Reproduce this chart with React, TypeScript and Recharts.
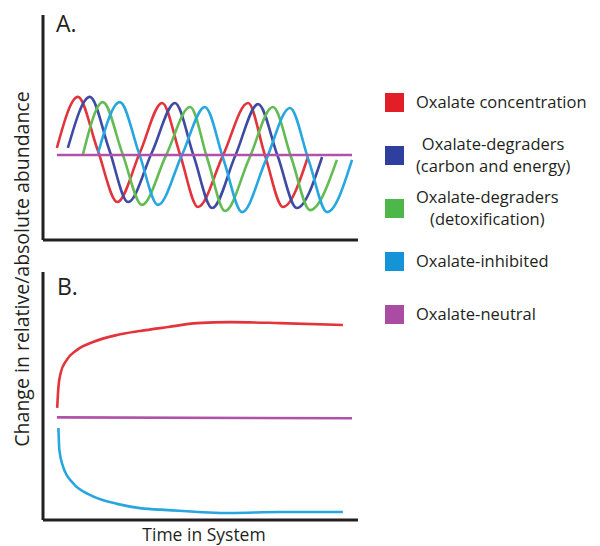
import { LineChart, Line, XAxis, YAxis } from 'recharts'

type Pt = { t: number; v: number }

// panel A: oscillating abundances (time 0-100, value 0-100)
const redA: Pt[] = [
  { t: 4.4, v: 40.9 }, { t: 11.1, v: 63.6 }, { t: 17.3, v: 40.2 }, { t: 23.6, v: 16.9 },
  { t: 30.8, v: 39 }, { t: 37.8, v: 60.9 }, { t: 43.5, v: 38 }, { t: 49.2, v: 14.7 },
  { t: 57.1, v: 37.5 }, { t: 65.1, v: 60.9 }, { t: 70.5, v: 37.5 }, { t: 76.2, v: 14.7 },
  { t: 84.1, v: 36.9 },
]
const blueA: Pt[] = [
  { t: 7.9, v: 40.9 }, { t: 14.9, v: 63.6 }, { t: 21, v: 40.2 }, { t: 27, v: 16.9 },
  { t: 34.6, v: 39 }, { t: 41.9, v: 60.9 }, { t: 47.8, v: 37.5 }, { t: 53.7, v: 14.2 },
  { t: 61, v: 37.3 }, { t: 68.3, v: 60.4 }, { t: 74.5, v: 37.3 }, { t: 80.6, v: 14.2 },
  { t: 88.6, v: 36.9 },
]
const greenA: Pt[] = [
  { t: 12.7, v: 38.2 }, { t: 19, v: 61.3 }, { t: 25.2, v: 38.5 }, { t: 31.4, v: 15.6 },
  { t: 39, v: 37.4 }, { t: 46.7, v: 59.1 }, { t: 52.2, v: 36 }, { t: 57.8, v: 12.9 },
  { t: 65.4, v: 36 }, { t: 73, v: 59.1 }, { t: 78.9, v: 36.2 }, { t: 84.8, v: 13.3 },
  { t: 93.3, v: 35.6 },
]
const cyanA: Pt[] = [
  { t: 17.5, v: 38.7 }, { t: 24.4, v: 61.3 }, { t: 30.5, v: 38.5 }, { t: 36.5, v: 15.6 },
  { t: 44, v: 37.4 }, { t: 51.4, v: 59.1 }, { t: 57.3, v: 35.8 }, { t: 63.2, v: 12.4 },
  { t: 70.8, v: 35.6 }, { t: 78.4, v: 58.7 }, { t: 84.3, v: 35.6 }, { t: 90.2, v: 12.4 },
  { t: 98.1, v: 35.6 },
]
const purpleA: Pt[] = [{ t: 4.4, v: 37.8 }, { t: 98.1, v: 37.8 }]

// panel B: steady-state responses
const redB: Pt[] = [
  { t: 4.5, v: 45.2 }, { t: 4.9, v: 53.6 }, { t: 5.6, v: 59.3 }, { t: 7.5, v: 64.5 },
  { t: 10.7, v: 68.5 }, { t: 15.9, v: 71.8 }, { t: 23.5, v: 74.6 }, { t: 30.8, v: 76.2 },
  { t: 39.7, v: 77.8 }, { t: 48.9, v: 79.4 }, { t: 59.4, v: 79.8 }, { t: 75.2, v: 79.4 },
  { t: 95.2, v: 78.6 },
]
const purpleB: Pt[] = [{ t: 4.4, v: 41.4 }, { t: 98.1, v: 41.0 }]
const cyanB: Pt[] = [
  { t: 4.9, v: 37.1 }, { t: 5.2, v: 28.2 }, { t: 6.4, v: 21.4 }, { t: 9.5, v: 14.9 },
  { t: 14.9, v: 10.1 }, { t: 23.5, v: 6.5 }, { t: 30.8, v: 4.8 }, { t: 39.7, v: 4 },
  { t: 59.4, v: 2.8 }, { t: 75.2, v: 3.2 }, { t: 95.2, v: 3.2 },
]

const legendColors = ['#e21f26', '#2f3f9d', '#4db749', '#1494d6', '#a94ca2']
const legendLabels = [
  ['Oxalate concentration'],
  ['Oxalate-degraders', '(carbon and energy)'],
  ['Oxalate-degraders', '(detoxification)'],
  ['Oxalate-inhibited'],
  ['Oxalate-neutral'],
]

const RED = '#e2343a'
const BLUE = '#3f4aa3'
const GREEN = '#62bb53'
const CYAN = '#27a6df'
const PURPLE = '#b052a8'
const AXIS = '#231f20'
const FONT = '"Open Sans", "DejaVu Sans", sans-serif'

function Panel({ height, margin, lines }: {
  height: number
  margin: { top: number; right: number; bottom: number; left: number }
  lines: { data: Pt[]; color: string }[]
}) {
  return (
    <LineChart width={370} height={height} margin={margin}>
      <XAxis
        type="number"
        dataKey="t"
        domain={[0, 100]}
        height={1}
        tick={false}
        tickLine={false}
        axisLine={{ stroke: AXIS, strokeWidth: 3 }}
        allowDataOverflow
      />
      <YAxis
        type="number"
        dataKey="v"
        domain={[0, 100]}
        width={1}
        tick={false}
        tickLine={false}
        axisLine={{ stroke: AXIS, strokeWidth: 3 }}
        allowDataOverflow
      />
      {lines.map((l, i) => (
        <Line
          key={i}
          data={l.data}
          dataKey="v"
          type="monotone"
          stroke={l.color}
          strokeWidth={2.6}
          dot={false}
          activeDot={false}
          isAnimationActive={false}
        />
      ))}
    </LineChart>
  )
}

export default function App() {
  return (
    <div style={{ position: 'absolute', left: 0, top: 0, width: 600, height: 546, background: '#fff', fontFamily: FONT, color: AXIS }}>
      <div style={{ position: 'absolute', left: 0, top: 0 }}>
        <Panel
          height={250}
          margin={{ top: 15, right: 12, bottom: 9, left: 42 }}
          lines={[
            { data: redA, color: RED },
            { data: blueA, color: BLUE },
            { data: greenA, color: GREEN },
            { data: cyanA, color: CYAN },
            { data: purpleA, color: PURPLE },
          ]}
        />
      </div>
      <div style={{ position: 'absolute', left: 0, top: 260 }}>
        <Panel
          height={270}
          margin={{ top: 12, right: 12, bottom: 9, left: 42 }}
          lines={[
            { data: redB, color: RED },
            { data: purpleB, color: PURPLE },
            { data: cyanB, color: CYAN },
          ]}
        />
      </div>

      <div style={{ position: 'absolute', left: 56, top: 10, fontSize: 23, lineHeight: '26px' }}>A.</div>
      <div style={{ position: 'absolute', left: 57, top: 273, fontSize: 23, lineHeight: '26px' }}>B.</div>

      <div
        style={{
          position: 'absolute',
          left: 22,
          top: 269,
          transform: 'translate(-50%, -50%) rotate(-90deg)',
          whiteSpace: 'nowrap',
          fontSize: 19.5,
          lineHeight: '22px',
        }}
      >
        Change in relative/absolute abundance
      </div>

      <div style={{ position: 'absolute', left: 204, top: 534, transform: 'translate(-50%, -50%)', whiteSpace: 'nowrap', fontSize: 17.5, lineHeight: '18px' }}>
        Time in System
      </div>

      <div style={{ position: 'absolute', left: 385, top: 75.5, display: 'flex', flexDirection: 'column' }}>
        {legendLabels.map((lines, i) => (
          <div key={i} style={{ height: 53, display: 'flex', alignItems: 'center' }}>
            <div style={{ width: 19, height: 19, background: legendColors[i], flex: 'none' }} />
            <div style={{ marginLeft: 12, textAlign: 'center', fontSize: 16.5, lineHeight: '22px', whiteSpace: 'nowrap' }}>
              {lines.map((s, j) => (
                <div key={j}>{s}</div>
              ))}
            </div>
          </div>
        ))}
      </div>
    </div>
  )
}
